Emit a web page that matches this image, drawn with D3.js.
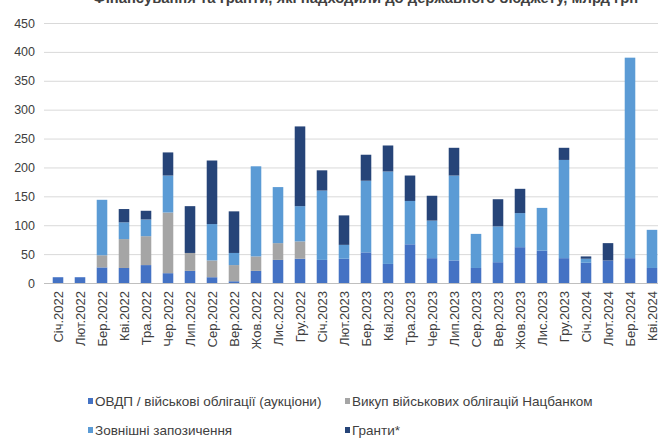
<!DOCTYPE html>
<html>
<head>
<meta charset="utf-8">
<script src="https://cdn.jsdelivr.net/npm/d3@7"></script>
<style>
  body { margin: 0; background: #fff; }
  svg { display: block; font-family: "Liberation Sans", Arial, sans-serif; }
  .tick text { fill: #404040; }
</style>
</head>
<body>
<svg id="chart" width="658" height="444"></svg>
<script>
// months, Jan 2022 - Apr 2024
const months = ['Січ.2022','Лют.2022','Бер.2022','Кві.2022','Тра.2022','Чер.2022','Лип.2022','Сер.2022','Вер.2022','Жов.2022','Лис.2022','Гру.2022',
                'Січ.2023','Лют.2023','Бер.2023','Кві.2023','Тра.2023','Чер.2023','Лип.2023','Сер.2023','Вер.2023','Жов.2023','Лис.2023','Гру.2023',
                'Січ.2024','Лют.2024','Бер.2024','Кві.2024'];
const ovdp    = [10,10,27,26,31,17,21,10, 3,21,40,42, 40,42,53,33,67,43,39,26,36,62,56,43, 35,39,43,26];
const nbu     = [ 0, 0,21,50,50,105,31,29,28,25,29,30,  0, 0, 0, 0, 0, 0, 0, 0, 0, 0, 0, 0,  0, 0, 0, 0];
const external= [ 0, 0,96,29,29,64, 0,63,21,156,97,61, 120,24,124,160,75,65,147,59,62,59,74,170, 7, 0,347,66];
const grants  = [ 0, 0, 0,23,15,40,81,110,72, 0, 0,138, 35,51,45,45,44,43,48, 0,47,42, 0,21,  4,30, 0, 0];
const yTicks = [0,50,100,150,200,250,300,350,400,450];

const seriesNames = ['ОВДП / військові облігації (аукціони)','Викуп військових облігацій Нацбанком','Зовнішні запозичення','Гранти*'];
const colors = ['#4472c4','#a5a5a5','#5b9bd5','#264478'];

let svg = d3.select('#chart');

let rows = months.map((m, i) => ({ month: m, s0: ovdp[i], s1: nbu[i], s2: external[i], s3: grants[i] }));
let stack = d3.stack().keys(['s0','s1','s2','s3'])(rows);

const x = d3.scaleBand().domain(months).range([47, 663]).paddingInner(0.52).paddingOuter(0.26);
const y = d3.scaleLinear().domain([0, 450]).range([283, 23]);

// grid + y labels
let yAxis = svg.append('g').attr('transform', 'translate(44,0)')
    .call(d3.axisLeft(y).tickValues(yTicks).tickSize(-620).tickPadding(9));
yAxis.select('.domain').remove();
yAxis.selectAll('.tick line').attr('stroke', '#d9d9d9');
yAxis.selectAll('.tick text').attr('font-size', 12.5);
yAxis.selectAll('.tick').filter(d => d === 0).select('line').attr('stroke', '#bfbfbf');

// bars
stack.forEach((layer, k) => {
    svg.append('g').attr('fill', colors[k])
      .selectAll('rect').data(layer).join('rect')
        .attr('x', d => x(d.data.month))
        .attr('width', x.bandwidth())
        .attr('y', d => y(d[1]))
        .attr('height', d => y(d[0]) - y(d[1]));
});

// x axis labels, rotated
let xAxis = svg.append('g').attr('transform', 'translate(0,283)')
    .call(d3.axisBottom(x).tickSize(0).tickPadding(0));
xAxis.select('.domain').remove();
xAxis.selectAll('.tick text')
    .attr('font-size', 13)
    .attr('transform', 'rotate(-90)')
    .attr('text-anchor', 'end')
    .attr('dy', '0.35em')
    .attr('x', -8).attr('y', 0);

// title (cut at top, as in the source picture)
svg.append('text').attr('x', 93).attr('y', 3)
    .attr('font-size', 14.8).attr('font-weight', 'bold').attr('fill', '#404040')
    .text('Фінансування та гранти, які надходили до державного бюджету, млрд грн');

// legend
const legendPos = [[88, 401], [345, 401], [88, 430], [345, 430]];
seriesNames.forEach((name, k) => {
    let g = svg.append('g').attr('transform', `translate(${legendPos[k][0]},${legendPos[k][1]})`);
    g.append('rect').attr('x', 0).attr('y', -3).attr('width', 5).attr('height', 6).attr('fill', colors[k]);
    g.append('text').attr('x', 7).attr('y', 0).attr('dy', '0.35em')
        .attr('font-size', 13.5).attr('fill', '#404040').text(name);
});
</script>
</body>
</html>
